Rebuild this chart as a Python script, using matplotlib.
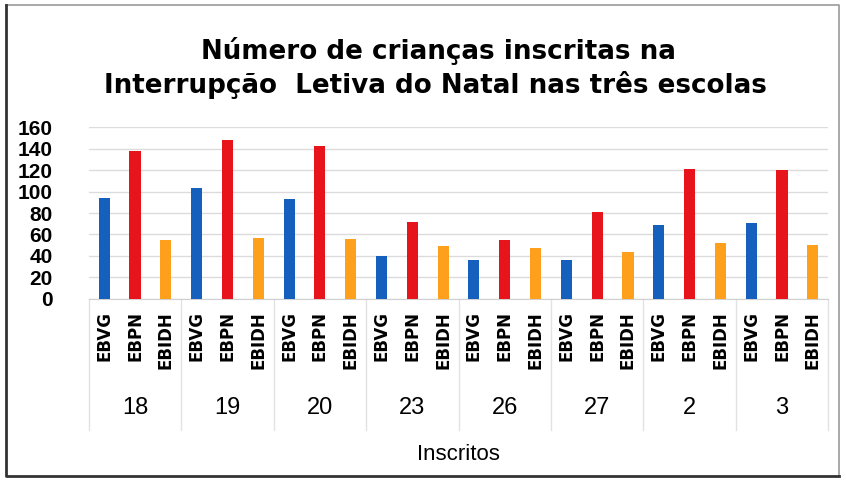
import matplotlib
matplotlib.use('Agg')
import matplotlib.pyplot as plt
import matplotlib.transforms as mtransforms
from matplotlib.lines import Line2D
import numpy as np

# dados
dias = ['18', '19', '20', '23', '26', '27', '2', '3']
escolas = ['EBVG', 'EBPN', 'EBIDH']
ebvg = [94, 103, 93, 40, 36, 36, 69, 71]
ebpn = [138, 148, 142, 72, 55, 81, 121, 120]
ebidh = [55, 57, 56, 49, 47, 44, 52, 50]
yticks = [0, 20, 40, 60, 80, 100, 120, 140, 160]

cores = ['#1560bd', '#e8141b', '#ffa01c']
cond = ['Liberation Sans', 'DejaVu Sans']

fig = plt.figure(figsize=(8.46, 4.83), dpi=100)
ax = fig.add_axes([0.105, 0.381, 0.874, 0.356])

n = len(dias)
base = np.arange(n) * 3
for j, (vals, cor) in enumerate(zip([ebvg, ebpn, ebidh], cores)):
    ax.bar(base + j, vals, width=0.36, color=cor, zorder=3)

ax.set_xlim(-0.5, n * 3 - 0.5)
ax.set_ylim(0, 160)
ax.set_yticks(yticks)
ax.set_yticklabels([str(v) for v in yticks], fontsize=15, fontweight='bold',
                   family='Liberation Sans')
ax.yaxis.grid(True, color='#dcdcdc', linewidth=1, zorder=0)
ax.tick_params(axis='y', length=0, pad=26)
for s in ['top', 'right', 'left']:
    ax.spines[s].set_visible(False)
ax.spines['bottom'].set_color('#d0d0d0')

# rótulos das escolas
ax.set_xticks(np.arange(n * 3))
ax.set_xticklabels(escolas * n, rotation=90, fontsize=12, va='top',
                   fontweight='bold')
ax.tick_params(axis='x', length=0, pad=9)

# segundo nível do eixo: dias
trans = mtransforms.blended_transform_factory(ax.transData, ax.transAxes)
for g, d in enumerate(dias):
    ax.text(g * 3 + 1, -0.634, d, transform=trans, ha='center', va='center',
            fontsize=17, family=cond)
for g in range(n + 1):
    ax.plot([g * 3 - 0.5, g * 3 - 0.5], [0, -0.762], transform=trans,
            color='#e2e2e2', linewidth=1, clip_on=False)

ax.text(0.5, -0.907, 'Inscritos', transform=ax.transAxes, ha='center',
        va='center', fontsize=16, family=cond)

fig.text(0.518, 0.895, 'Número de crianças inscritas na', ha='center',
         va='center', fontsize=18.8, fontweight='bold')
fig.text(0.515, 0.824, 'Interrupção  Letiva do Natal nas três escolas',
         ha='center', va='center', fontsize=18.8, fontweight='bold')

# moldura (mais escura à esquerda e em baixo, como no scan)
x0, x1, y0, y1 = 0.007, 0.992, 0.014, 0.989
fig.lines.append(Line2D([x0, x1, x1], [y1, y1, y0], transform=fig.transFigure,
                        color='#9a9a9a', linewidth=1.2))
fig.lines.append(Line2D([x0, x0, x1], [y1, y0, y0], transform=fig.transFigure,
                        color='#333333', linewidth=2))

fig.savefig('out.png', dpi=100)
